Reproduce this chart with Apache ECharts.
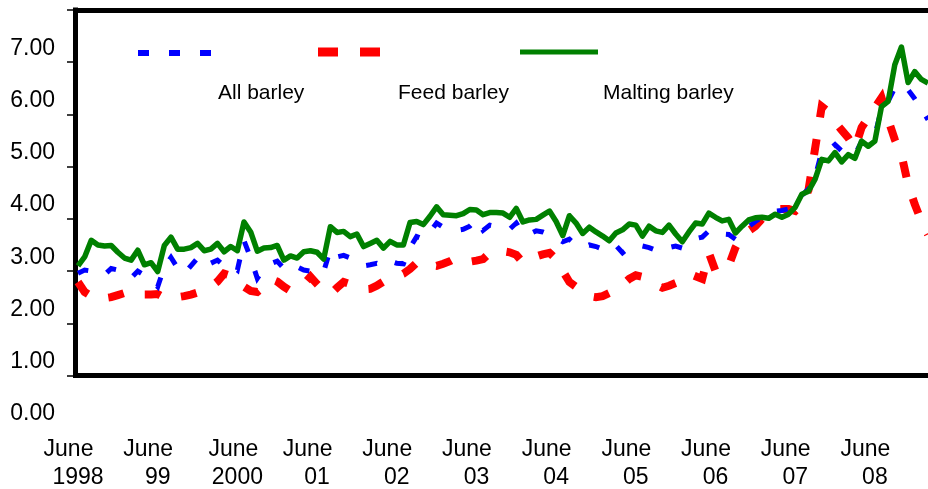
<!DOCTYPE html>
<html>
<head>
<meta charset="utf-8">
<script src="https://cdn.jsdelivr.net/npm/echarts@6/dist/echarts.min.js"></script>
<style>
  html, body { margin: 0; padding: 0; background: #fff; }
  #chart { width: 928px; height: 489px; }
</style>
</head>
<body>
<div id="chart"></div>
<script>
// Monthly barley prices, June 1998 onward (dollars per bushel)
const startYear = 1998;
const startMonth = 5; // June (0-based)
const pointCount = 129;

// June tick labels, second line of each x label
const yearLabels = ['1998', '99', '2000', '01', '02', '03', '04', '05', '06', '07', '08'];

const allBarley = [
  1.96, 2.02, 2.00, 1.95, 1.93, 2.05, 2.02, 1.95, 1.87, 2.00, 1.92, 1.82,
  1.70, 2.08, 2.26, 2.06, 1.95, 2.10, 2.25, 2.10, 2.15, 2.21, 2.10, 2.12,
  2.02, 2.58, 2.25, 1.86, 2.05, 2.14, 2.19, 2.05, 2.13, 2.08, 2.02, 2.00,
  1.93, 1.99, 2.42, 2.27, 2.30, 2.25, 2.21, 2.10, 2.12, 2.15, 2.10, 2.19,
  2.15, 2.14, 2.45, 2.66, 2.61, 2.75, 2.92, 2.84, 2.80, 2.78, 2.80, 2.86,
  2.99, 2.78, 2.88, 2.85, 2.82, 2.80, 2.92, 2.72, 2.71, 2.77, 2.75, 2.70,
  2.63, 2.56, 2.61, 2.50, 2.45, 2.50, 2.47, 2.42, 2.40, 2.49, 2.35, 2.45,
  2.51, 2.48, 2.45, 2.40, 2.37, 2.45, 2.48, 2.44, 2.55, 2.62, 2.65, 2.77,
  2.79, 2.71, 2.70, 2.61, 2.73, 2.85, 2.95, 3.03, 3.11, 3.15, 3.16, 3.19,
  3.31, 3.45, 3.57, 3.80, 4.29, 4.31, 4.42, 4.30, 4.25, 4.23, 4.48, 4.54,
  4.60, 5.11, 5.25, 5.51, 5.57, 5.47, 5.30, 5.10, 4.90
];

const feedBarley = [
  1.79, 1.60, 1.52, 1.45, 1.48, 1.50, 1.54, 1.58, 1.62, 1.60, 1.55, 1.55,
  1.56, 1.49, 1.45, 1.50, 1.52, 1.55, 1.59, 1.64, 1.70, 1.80, 1.95, 1.91,
  1.74, 1.70, 1.62, 1.60, 1.70, 1.85, 1.80, 1.70, 1.62, 1.65, 1.75, 1.89,
  1.75, 1.62, 1.56, 1.68, 1.79, 1.75, 1.70, 1.65, 1.66, 1.72, 1.80, 1.85,
  1.90, 1.95, 2.04, 2.16, 2.10, 2.12, 2.10, 2.14, 2.19, 2.26, 2.22, 2.18,
  2.20, 2.23, 2.35, 2.40, 2.38, 2.36, 2.31, 2.16, 2.20, 2.28, 2.32, 2.35,
  2.23, 2.00, 1.79, 1.70, 1.58, 1.52, 1.50, 1.52, 1.58, 1.66, 1.74, 1.85,
  1.92, 1.89, 1.81, 1.74, 1.68, 1.72, 1.77, 1.85, 1.95, 1.90, 1.85, 2.35,
  2.00, 1.98, 2.10, 2.45, 2.69, 2.77, 2.86, 3.00, 3.12, 3.19, 3.19, 3.19,
  3.15, 3.28, 3.55, 4.35, 5.15, 5.05, 4.85, 4.70, 4.55, 4.35, 4.75, 4.94,
  5.13, 5.32, 4.90, 4.52, 4.23, 3.66, 3.28, 2.96, 2.70
];

const maltingBarley = [
  2.10, 2.27, 2.59, 2.50, 2.48, 2.49, 2.36, 2.25, 2.21, 2.40, 2.12, 2.16,
  1.99, 2.49, 2.65, 2.42, 2.42, 2.45, 2.53, 2.39, 2.42, 2.53, 2.37, 2.47,
  2.39, 2.94, 2.75, 2.38, 2.44, 2.45, 2.49, 2.21, 2.29, 2.25, 2.37, 2.39,
  2.36, 2.23, 2.85, 2.74, 2.76, 2.66, 2.71, 2.47, 2.53, 2.59, 2.44, 2.57,
  2.50, 2.50, 2.93, 2.95, 2.89, 3.05, 3.23, 3.08, 3.07, 3.06, 3.10, 3.18,
  3.17, 3.08, 3.12, 3.12, 3.11, 3.03, 3.20, 2.94, 2.98, 2.99, 3.07, 3.15,
  2.95, 2.68, 3.06, 2.92, 2.72, 2.84, 2.75, 2.67, 2.58, 2.73, 2.79, 2.90,
  2.88, 2.67, 2.86, 2.77, 2.74, 2.88, 2.71, 2.56, 2.75, 2.92, 2.90, 3.11,
  3.03, 2.96, 2.99, 2.73, 2.86, 2.98, 3.02, 3.03, 3.01, 3.09, 3.03, 3.09,
  3.22, 3.47, 3.53, 3.76, 4.14, 4.11, 4.27, 4.09, 4.23, 4.16, 4.49, 4.39,
  4.49, 5.15, 5.25, 5.95, 6.29, 5.61, 5.82, 5.67, 5.60
];

// Month categories, one per data point
const monthNames = ['Jan', 'Feb', 'Mar', 'Apr', 'May', 'Jun', 'Jul', 'Aug', 'Sep', 'Oct', 'Nov', 'Dec'];
const categories = [];
for (let i = 0; i < pointCount; i++) {
  const m = (startMonth + i) % 12;
  const y = startYear + Math.floor((startMonth + i) / 12);
  categories.push(monthNames[m] + ' ' + y);
}

const FONT = '"Liberation Sans", Arial, sans-serif';
const BLUE = '#0000ff';
const RED = '#ff0000';
const GREEN = '#008000';
const blueDash = [11, 20];
const redDash = [16, 22];
const redKeyDash = [20, 22];

const chart = echarts.init(document.getElementById('chart'), null, { renderer: 'canvas' });

const labelLine = { fontFamily: FONT, fontSize: 23, lineHeight: 28, color: '#000' };

chart.setOption({
  animation: false,
  backgroundColor: '#ffffff',
  grid: { left: 78, top: 10, right: -4, bottom: 112, containLabel: false },
  xAxis: [
    {
      type: 'category',
      data: categories,
      boundaryGap: false,
      position: 'bottom',
      axisLine: { show: true, lineStyle: { color: '#000', width: 5, cap: 'square' } },
      axisTick: { show: false },
      splitLine: { show: false },
      axisLabel: {
        interval: 11,
        margin: 60,
        color: '#000',
        fontFamily: FONT,
        formatter: function (value, index) {
          if (index % 12 !== 0) return '';
          const yr = yearLabels[index / 12];
          const key = yr.length === 4 && yr !== '1998' ? 'n' : 'm';
          return '{' + key + '|June}\n{y|' + yr + '}';
        },
        rich: {
          m: Object.assign({}, labelLine, { padding: [0, 19, 0, 0] }),
          n: Object.assign({}, labelLine, { padding: [0, 8, 0, 0] }),
          y: labelLine
        }
      }
    },
    {
      type: 'category',
      data: categories,
      boundaryGap: false,
      position: 'top',
      axisLine: { show: true, lineStyle: { color: '#000', width: 5, cap: 'square' } },
      axisTick: { show: false },
      axisLabel: { show: false },
      splitLine: { show: false }
    }
  ],
  yAxis: {
    type: 'value',
    min: 0,
    max: 7,
    interval: 1,
    offset: 3,
    axisLine: { show: true, lineStyle: { color: '#000', width: 5, cap: 'square' } },
    axisTick: { show: true, length: 8, lineStyle: { color: '#000', width: 1.5 } },
    splitLine: { show: false },
    axisLabel: {
      margin: 20,
      color: '#000',
      fontFamily: FONT,
      fontSize: 23,
      lineHeight: 23,
      verticalAlign: 'top',
      padding: [27, 0, 0, 0],
      formatter: function (v) { return v.toFixed(2); }
    }
  },
  series: [
    {
      name: 'Feed barley',
      type: 'line',
      data: feedBarley,
      showSymbol: false,
      symbol: 'none',
      lineStyle: { color: RED, width: 8, type: redDash, cap: 'butt', join: 'miter' },
      z: 2
    },
    {
      name: 'All barley',
      type: 'line',
      data: allBarley,
      showSymbol: false,
      symbol: 'none',
      lineStyle: { color: BLUE, width: 5, type: blueDash, cap: 'butt', join: 'miter' },
      z: 3
    },
    {
      name: 'Malting barley',
      type: 'line',
      data: maltingBarley,
      showSymbol: false,
      symbol: 'none',
      lineStyle: { color: GREEN, width: 5.5, join: 'round' },
      z: 4
    }
  ],
  graphic: [
    // legend keys
    { type: 'line', shape: { x1: 138, y1: 53, x2: 212, y2: 53 },
      style: { stroke: BLUE, lineWidth: 6, lineDash: blueDash } },
    { type: 'line', shape: { x1: 318, y1: 52, x2: 382, y2: 52 },
      style: { stroke: RED, lineWidth: 9, lineDash: redKeyDash } },
    { type: 'line', shape: { x1: 520, y1: 52, x2: 598, y2: 52 },
      style: { stroke: GREEN, lineWidth: 5 } },
    // legend names
    { type: 'text', left: 218, top: 83,
      style: { text: 'All barley', font: '21px ' + FONT, fill: '#000' } },
    { type: 'text', left: 398, top: 83,
      style: { text: 'Feed barley', font: '21px ' + FONT, fill: '#000' } },
    { type: 'text', left: 603, top: 83,
      style: { text: 'Malting barley', font: '21px ' + FONT, fill: '#000' } }
  ]
});
</script>
</body>
</html>
